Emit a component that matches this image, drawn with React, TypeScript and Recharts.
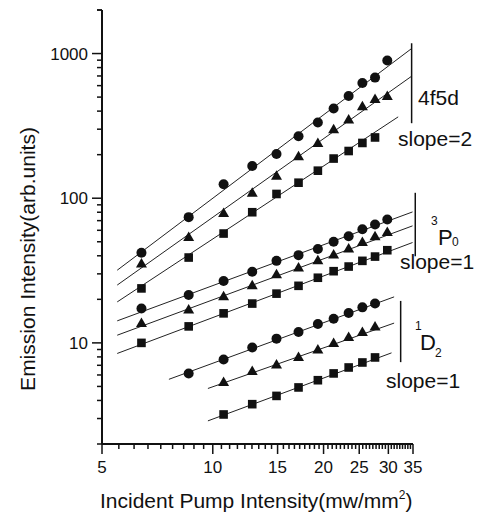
import React from 'react';
import { ComposedChart, Line, XAxis, YAxis, ReferenceLine } from 'recharts';

// ---- data ----
const pumpAll = [6.4, 8.6, 10.7, 12.8, 14.9, 17.1, 19.3, 21.3, 23.4, 25.5, 27.6, 29.8];
const pump4f5dSquare = [6.4, 8.6, 10.7, 12.8, 14.9, 17.1, 19.3, 21.3, 23.4, 25.5, 27.6];
const pump1D2Circle = [8.6, 10.7, 12.8, 14.9, 17.1, 19.3, 21.3, 23.4, 25.5, 27.6];
const pump1D2 = [10.7, 12.8, 14.9, 17.1, 19.3, 21.3, 23.4, 25.5, 27.6];

const f5dCircle = [42, 74, 125, 167, 202, 268, 334, 417, 509, 626, 682, 895];
const f5dTriangle = [35.4, 54, 79, 109, 143, 195, 241, 300, 350, 432, 486, 509];
const f5dSquare = [23.8, 38.9, 57, 80, 107, 128, 155, 188, 212, 241, 263];

const p0Circle = [17.3, 21.4, 26.8, 31, 36.9, 40.4, 44.6, 50, 54.6, 61, 65.9, 71.3];
const p0Triangle = [13.7, 17.0, 21.0, 25.0, 29.8, 33.2, 37.3, 40.8, 44.9, 49.9, 54.6, 58.5];
const p0Square = [10.0, 13.0, 16.0, 18.7, 21.9, 24.8, 28.2, 31.3, 33.7, 36.9, 39.5, 43.7];

const d2Circle = [6.15, 7.67, 9.29, 10.7, 11.9, 13.5, 14.7, 16.1, 17.6, 18.7];
const d2Triangle = [5.37, 6.4, 7.09, 8.0, 9.0, 10.0, 11.0, 11.9, 13.0];
const d2Square = [3.2, 3.77, 4.3, 4.92, 5.52, 6.15, 6.76, 7.32, 7.93];

// fitted lines: [startX, startY, endX, endY]
const fit4f5dCircle = [5.5, 31.8, 34.7, 1083];
const fit4f5dTriangle = [5.5, 25.1, 34.7, 697];
const fit4f5dSquare = [5.5, 19.2, 31.9, 365];
const fitP0Circle = [5.5, 14.2, 34.9, 80.4];
const fitP0Triangle = [5.5, 11.3, 34.9, 64.4];
const fitP0Square = [5.5, 8.45, 34.9, 49.4];
const fitD2Circle = [7.6, 5.6, 31.1, 20.8];
const fitD2Triangle = [9.7, 4.84, 31.1, 13.7];
const fitD2Square = [9.7, 2.89, 30.6, 8.53];

// group bars: [x, yTop, yBottom]
const bar4f5d = [34.7, 1178, 330];
const barP0 = [35.5, 109, 39.7];
const barD2 = [32.4, 19.5, 7.36];

const xMajorTicks = [5, 10, 15, 20, 25, 30, 35];
const yMajorTicks = [10, 100, 1000];
const yDecades = [1, 10, 100, 1000];

// ---- helpers ----
const FONT = '"Liberation Sans", Arial, Helvetica, sans-serif';
const INK = '#111';

const pts = (xs: number[], ys: number[]) => xs.map((x, i) => ({ x, y: ys[i] }));
const seg = (f: number[]) => [{ x: f[0], y: f[1] }, { x: f[2], y: f[3] }];

const xTicks: number[] = [];
for (let i = 0; i < xMajorTicks.length; i++) {
  xTicks.push(xMajorTicks[i]);
  if (i < xMajorTicks.length - 1) {
    const a = xMajorTicks[i];
    const b = xMajorTicks[i + 1];
    for (let k = 1; k <= 8; k++) xTicks.push(a + ((b - a) * k) / 9);
  }
}
const yTicks: number[] = [];
yDecades.forEach((d) => {
  for (let m = 1; m <= 9; m++) {
    const v = d * m;
    if (v >= 2 && v <= 2000) yTicks.push(v);
  }
});
yTicks.push(2000);

const XTick = (props: any) => {
  const { x, y, payload } = props;
  const v = payload.value;
  const major = xMajorTicks.some((t) => Math.abs(t - v) < 1e-6);
  return (
    <g>
      <line x1={x} x2={x} y1={y} y2={y + (major ? 10 : 5)} stroke={INK} strokeWidth={1.5} />
      {major && (
        <text x={x} y={y + 29} textAnchor="middle" fontSize={17} fontFamily={FONT} fill={INK}>
          {v}
        </text>
      )}
    </g>
  );
};

const YTick = (props: any) => {
  const { x, y, payload } = props;
  const v = payload.value;
  const major = yMajorTicks.some((t) => Math.abs(t - v) < 1e-6);
  return (
    <g>
      <line x1={x} x2={x - (major ? 10 : 5)} y1={y} y2={y} stroke={INK} strokeWidth={1.5} />
      {major && (
        <text x={x - 14} y={y + 6} textAnchor="end" fontSize={17} fontFamily={FONT} fill={INK}>
          {v}
        </text>
      )}
    </g>
  );
};

const Circle = (p: any) => (p.cx == null ? null : <circle cx={p.cx} cy={p.cy} r={5} fill={INK} />);
const Square = (p: any) =>
  p.cx == null ? null : <rect x={p.cx - 4.3} y={p.cy - 4.3} width={8.6} height={8.6} fill={INK} />;
const Triangle = (p: any) =>
  p.cx == null ? null : (
    <polygon points={`${p.cx},${p.cy - 5.5} ${p.cx + 5.5},${p.cy + 4} ${p.cx - 5.5},${p.cy + 4}`} fill={INK} />
  );

const pointSeries = [
  { key: 'f5dC', data: pts(pumpAll, f5dCircle), shape: Circle },
  { key: 'f5dT', data: pts(pumpAll, f5dTriangle), shape: Triangle },
  { key: 'f5dS', data: pts(pump4f5dSquare, f5dSquare), shape: Square },
  { key: 'p0C', data: pts(pumpAll, p0Circle), shape: Circle },
  { key: 'p0T', data: pts(pumpAll, p0Triangle), shape: Triangle },
  { key: 'p0S', data: pts(pumpAll, p0Square), shape: Square },
  { key: 'd2C', data: pts(pump1D2Circle, d2Circle), shape: Circle },
  { key: 'd2T', data: pts(pump1D2, d2Triangle), shape: Triangle },
  { key: 'd2S', data: pts(pump1D2, d2Square), shape: Square },
];

const fitSeries = [
  fit4f5dCircle, fit4f5dTriangle, fit4f5dSquare,
  fitP0Circle, fitP0Triangle, fitP0Square,
  fitD2Circle, fitD2Triangle, fitD2Square,
];

const bars = [bar4f5d, barP0, barD2];

export default function App() {
  return (
    <div style={{ position: 'absolute', left: 0, top: 0, width: 478, height: 515, background: '#fff' }}>
      <ComposedChart
        width={478}
        height={515}
        margin={{ top: 10, right: 65, bottom: 11, left: 0 }}
      >
        <XAxis
          type="number"
          dataKey="x"
          scale="log"
          domain={[5, 35]}
          allowDataOverflow
          ticks={xTicks}
          interval={0}
          tick={<XTick />}
          tickLine={false}
          tickSize={0}
          tickMargin={0}
          height={60}
          axisLine={{ stroke: INK, strokeWidth: 2 }}
        />
        <YAxis
          type="number"
          dataKey="y"
          scale="log"
          domain={[2, 2000]}
          allowDataOverflow
          ticks={yTicks}
          interval={0}
          tick={<YTick />}
          tickLine={false}
          tickSize={0}
          tickMargin={0}
          width={102}
          axisLine={{ stroke: INK, strokeWidth: 2 }}
        />
        {fitSeries.map((f, i) => (
          <Line
            key={'fit' + i}
            data={seg(f)}
            dataKey="y"
            stroke="#222"
            strokeWidth={1}
            dot={false}
            activeDot={false}
            isAnimationActive={false}
            legendType="none"
          />
        ))}
        {pointSeries.map((s) => (
          <Line
            key={s.key}
            data={s.data}
            dataKey="y"
            stroke="none"
            dot={(p: any) => <s.shape key={s.key + p.index} {...p} />}
            activeDot={false}
            isAnimationActive={false}
            legendType="none"
          />
        ))}
        {bars.map((b, i) => (
          <ReferenceLine
            key={'bar' + i}
            segment={[{ x: b[0], y: b[1] }, { x: b[0], y: b[2] }]}
            stroke={INK}
            strokeWidth={1.5}
            ifOverflow="visible"
          />
        ))}
      </ComposedChart>
      <svg
        width={478}
        height={515}
        style={{ position: 'absolute', left: 0, top: 0, pointerEvents: 'none' }}
        fontFamily={FONT}
        fill={INK}
      >
        <text x={418} y={105} fontSize={21}>4f5d</text>
        <text x={398} y={146} fontSize={21}>slope=2</text>

        <text x={431} y={225} fontSize={12}>3</text>
        <text x={438} y={245} fontSize={22}>P</text>
        <text x={452} y={246} fontSize={12}>0</text>
        <text x={400} y={269} fontSize={21}>slope=1</text>

        <text x={415} y={330} fontSize={12}>1</text>
        <text x={420} y={350} fontSize={22}>D</text>
        <text x={435} y={357} fontSize={12}>2</text>
        <text x={386} y={388} fontSize={21}>slope=1</text>

        <text x={100} y={508} fontSize={21}>
          Incident Pump Intensity(mw/mm
          <tspan fontSize={12} dy={-9}>2</tspan>
          <tspan dy={9}>)</tspan>
        </text>
        <text x={35} y={259} fontSize={21} textAnchor="middle" transform="rotate(-90 35 259)">
          Emission Intensity(arb.units)
        </text>
      </svg>
    </div>
  );
}
